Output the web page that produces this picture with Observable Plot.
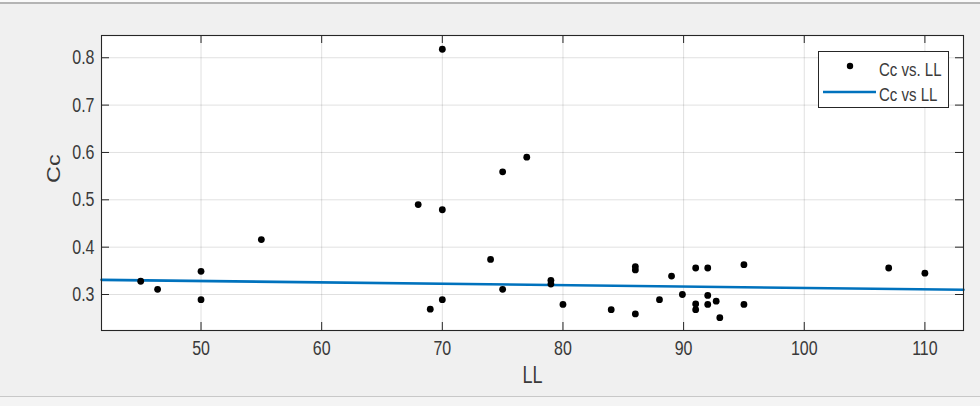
<!DOCTYPE html>
<html>
<head>
<meta charset="utf-8">
<script src="https://cdn.jsdelivr.net/npm/d3@7"></script>
<script src="https://cdn.jsdelivr.net/npm/@observablehq/plot@0.6"></script>
<style>
  html, body { margin: 0; padding: 0; background: #f0f0f0; }
  #wrap { position: relative; width: 980px; height: 406px; overflow: hidden; font-family: "Liberation Sans", Arial, sans-serif; }
  #topline { position: absolute; left: 0; top: 0; width: 980px; height: 2px; background: #fafafa; border-bottom: 2px solid #b4b4b4; }
  #botline { position: absolute; left: 0; top: 396px; width: 980px; height: 10px; background: #f4f4f4; border-top: 1px solid #c8c8c8; }
  #legend { position: absolute; left: 0; top: 0; }
</style>
</head>
<body>
<div id="wrap"><div id="topline"></div><div id="botline"></div></div>
<script>
// ---- data ----
const LL = [45, 46.4, 50, 50, 55, 68, 69, 70, 70, 70, 74, 75, 75, 77, 79, 79, 80, 84,
            86, 86, 86, 88, 89, 89.9, 91, 91, 91, 92, 92, 92, 92.7, 93, 95, 95, 107, 110];
const Cc = [0.328, 0.311, 0.349, 0.289, 0.416, 0.490, 0.269, 0.818, 0.479, 0.289, 0.374, 0.559, 0.311, 0.590, 0.330, 0.322, 0.279, 0.268,
            0.359, 0.352, 0.259, 0.289, 0.339, 0.300, 0.356, 0.280, 0.268, 0.356, 0.298, 0.279, 0.286, 0.251, 0.363, 0.279, 0.356, 0.345];
const fitLL = [41.75, 113.2];
const fitCc = [0.331, 0.310];
const xTicks = [50, 60, 70, 80, 90, 100, 110];
const yTicks = [0.3, 0.4, 0.5, 0.6, 0.7, 0.8];
const xLabel = "LL";
const yLabel = "Cc";
const legendLabels = ["Cc vs. LL", "Cc vs LL"];

const points = LL.map((x, i) => ({x, y: Cc[i]}));
const fit = fitLL.map((x, i) => ({x, y: fitCc[i]}));

const W = 980, H = 406;
const mL = 101, mR = 17, mT = 35, mB = 76;
const innerW = W - mL - mR, innerH = H - mT - mB;
const tickLen = 8;
const ink = "#262626";
const textInk = "#3a3a3a";
const blue = "#0072BD";

const chart = Plot.plot({
  width: W, height: H,
  marginLeft: mL, marginRight: mR, marginTop: mT, marginBottom: mB,
  style: {background: "transparent", fontFamily: "'Liberation Sans', Arial, sans-serif", overflow: "visible"},
  x: {domain: [41.75, 113.2], axis: null},
  y: {domain: [0.224, 0.847], axis: null},
  marks: [
    Plot.frame({fill: "white", stroke: null}),
    Plot.gridX(xTicks, {stroke: "#000", strokeOpacity: 0.12}),
    Plot.gridY(yTicks, {stroke: "#000", strokeOpacity: 0.12}),
    Plot.line(fit, {x: "x", y: "y", stroke: blue, strokeWidth: 2.6}),
    Plot.dot(points, {x: "x", y: "y", r: 3.4, fill: "black", stroke: null}),
    // inward ticks on all four sides
    Plot.tickX(xTicks, {x: d => d, stroke: ink, insetTop: innerH - tickLen}),
    Plot.tickX(xTicks, {x: d => d, stroke: ink, insetBottom: innerH - tickLen}),
    Plot.tickY(yTicks, {y: d => d, stroke: ink, insetRight: innerW - tickLen}),
    Plot.tickY(yTicks, {y: d => d, stroke: ink, insetLeft: innerW - tickLen}),
    Plot.frame({stroke: ink, strokeWidth: 1.1}),
    // tick labels
    Plot.text(xTicks, {x: d => d, frameAnchor: "bottom", dy: 24, text: d => String(d), fill: textInk, fontSize: 16, className: "stretch"}),
    Plot.text(yTicks, {y: d => d, frameAnchor: "left", dx: -7, textAnchor: "end", text: d => d.toFixed(1), fill: textInk, fontSize: 16, className: "stretch"}),
    // axis labels
    Plot.text([xLabel], {frameAnchor: "bottom", dy: 52, text: d => d, fill: textInk, fontSize: 18, className: "stretch"}),
    Plot.text([yLabel], {frameAnchor: "left", dx: -47, rotate: -90, text: d => d, fill: textInk, fontSize: 18, className: "stretchRot"})
  ]
});

// the reference text is taller than wide: stretch vertically
d3.select(chart).selectAll("g.stretch text").each(function() {
  const t = this.getAttribute("transform") || "";
  this.setAttribute("transform", t + " scale(1,1.3)");
});
d3.select(chart).selectAll("g.stretchRot text").each(function() {
  const t = this.getAttribute("transform") || "";
  this.setAttribute("transform", t + " scale(1.3,1)");
});

const wrap = document.getElementById("wrap");
chart.style.position = "absolute";
chart.style.left = "0px";
chart.style.top = "0px";
wrap.appendChild(chart);

// legend box (MATLAB style, top-right inside axes)
const lg = d3.select(wrap).append("svg").attr("id", "legend")
  .attr("width", W).attr("height", H)
  .style("position", "absolute").style("left", "0px").style("top", "0px");
const lx = 818, ly = 51, lw = 130, lh = 56;
lg.append("rect").attr("x", lx + 0.5).attr("y", ly + 0.5).attr("width", lw).attr("height", lh)
  .attr("fill", "white").attr("stroke", ink).attr("stroke-width", 1);
lg.append("circle").attr("cx", 850).attr("cy", 66).attr("r", 3.2).attr("fill", "black");
lg.append("line").attr("x1", 823).attr("x2", 876).attr("y1", 92).attr("y2", 92)
  .attr("stroke", blue).attr("stroke-width", 2.6);
[[69, legendLabels[0]], [94, legendLabels[1]]].forEach(([cy, s]) => {
  lg.append("text").attr("transform", `translate(879,${cy}) scale(1,1.25)`)
    .attr("dy", "0.35em").attr("font-size", 15).attr("fill", textInk)
    .attr("font-family", "'Liberation Sans', Arial, sans-serif").text(s);
});
</script>
</body>
</html>
